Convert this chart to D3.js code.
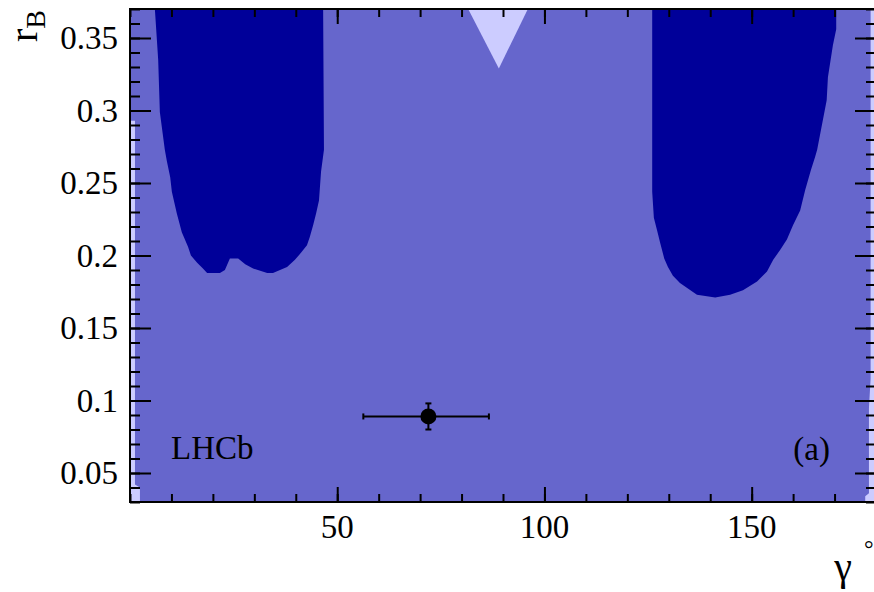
<!DOCTYPE html>
<html>
<head>
<meta charset="utf-8">
<script src="https://cdn.jsdelivr.net/npm/d3@7"></script>
<style>
  body { margin: 0; background: #fff; }
  svg { display: block; }
  text { font-family: "Liberation Serif", "Times New Roman", serif; }
</style>
</head>
<body>
<svg width="874" height="592"></svg>
<script>
// contours, [gamma (deg), rB]
var leftIsland = [
  [6.0, 0.370], [6.8, 0.335], [7.2, 0.299], [8.4, 0.273], [8.9, 0.265],
  [9.7, 0.254], [10.1, 0.244], [11.3, 0.229], [12.5, 0.216], [14.0, 0.206],
  [14.7, 0.200], [16.2, 0.195], [17.6, 0.191], [18.6, 0.188], [21.7, 0.188],
  [22.9, 0.190], [24.1, 0.198], [26.1, 0.198], [27.8, 0.194], [29.7, 0.191],
  [33.1, 0.188], [34.5, 0.188], [37.9, 0.192], [39.8, 0.197], [41.3, 0.202],
  [42.7, 0.207], [43.4, 0.213], [44.2, 0.221], [44.9, 0.229], [45.6, 0.238],
  [46.1, 0.258], [46.8, 0.273], [46.6, 0.370]
];
var rightIsland = [
  [126.0, 0.370], [126.0, 0.244], [126.4, 0.226], [127.2, 0.217], [127.9, 0.209],
  [128.9, 0.198], [129.8, 0.192], [131.0, 0.186], [132.7, 0.181], [134.7, 0.177],
  [136.8, 0.173], [141.2, 0.171], [144.8, 0.173], [147.9, 0.176], [151.3, 0.182],
  [153.7, 0.189], [155.2, 0.197], [156.9, 0.204], [158.5, 0.211], [160.0, 0.221],
  [161.7, 0.231], [162.9, 0.245], [164.3, 0.259], [165.3, 0.268], [165.8, 0.273],
  [168.1, 0.307], [168.4, 0.323], [169.6, 0.345], [170.4, 0.356], [170.4, 0.370]
];
var topWedge = [[81.6, 0.370], [89.0, 0.329], [96.0, 0.370]];
var leftStrip = [[0, 0.293], [1.2, 0.293], [1.2, 0.042], [2.4, 0.040], [2.4, 0.03], [0, 0.03]];
var rightStrip = [[178.7, 0.370], [178.7, 0.115], [178.3, 0.095], [178.3, 0.036],
  [177.4, 0.034], [177.4, 0.03], [180, 0.03], [180, 0.370]];

// best fit point with errors
var ptGamma = [72.0], ptGammaLo = [56.3], ptGammaHi = [86.6];
var ptR = [0.089], ptRLo = [0.080], ptRHi = [0.098];

var xTicks = [50, 100, 150];
var yTicks = [0.05, 0.1, 0.15, 0.2, 0.25, 0.3, 0.35];
var xMinor = d3.range(0, 181, 10);
var yMinor = d3.range(3, 38).map(function(d) { return d / 100; });

var svg = d3.select("svg");
var pL = 130, pR = 876, pT = 9, pB = 502;

var x = d3.scaleLinear().domain([0, 180]).range([pL, pR]);
var y = d3.scaleLinear().domain([0.03, 0.37]).range([pB, pT]);

var line = d3.line()
    .x(function(d) { return x(d[0]); })
    .y(function(d) { return y(d[1]); });

svg.append("defs").append("clipPath")
    .attr("id", "plot")
  .append("rect")
    .attr("x", pL).attr("y", pT)
    .attr("width", pR - pL).attr("height", pB - pT);

var plot = svg.append("g").attr("clip-path", "url(#plot)");

plot.append("rect")
    .attr("x", pL).attr("y", pT)
    .attr("width", pR - pL).attr("height", pB - pT)
    .attr("fill", "#6666cc");

[leftStrip, rightStrip, topWedge].forEach(function(pts) {
  plot.append("path").attr("d", line(pts) + "Z").attr("fill", "#ccccff");
});
[leftIsland, rightIsland].forEach(function(pts) {
  plot.append("path").attr("d", line(pts) + "Z").attr("fill", "#000099");
});

// error bars + marker
var pt = plot.append("g").attr("stroke", "#000").attr("stroke-width", 2);
ptGamma.forEach(function(g, i) {
  var cy = y(ptR[i]), cx = x(g);
  pt.append("line").attr("x1", x(ptGammaLo[i])).attr("x2", x(ptGammaHi[i])).attr("y1", cy).attr("y2", cy);
  pt.append("line").attr("x1", x(ptGammaLo[i])).attr("x2", x(ptGammaLo[i])).attr("y1", cy - 3).attr("y2", cy + 3);
  pt.append("line").attr("x1", x(ptGammaHi[i])).attr("x2", x(ptGammaHi[i])).attr("y1", cy - 3).attr("y2", cy + 3);
  pt.append("line").attr("x1", cx).attr("x2", cx).attr("y1", y(ptRLo[i])).attr("y2", y(ptRHi[i]));
  pt.append("line").attr("x1", cx - 3).attr("x2", cx + 3).attr("y1", y(ptRLo[i])).attr("y2", y(ptRLo[i]));
  pt.append("line").attr("x1", cx - 3).attr("x2", cx + 3).attr("y1", y(ptRHi[i])).attr("y2", y(ptRHi[i]));
  pt.append("circle").attr("cx", cx).attr("cy", cy).attr("r", 8).attr("fill", "#000").attr("stroke", "none");
});

// ticks on all four sides
function ticks(axis, tx, ty) {
  svg.append("g")
      .attr("transform", "translate(" + tx + "," + ty + ")")
      .call(axis)
      .call(function(g) {
        g.select(".domain").remove();
        g.selectAll("text").remove();
        g.selectAll("line").attr("stroke", "#000").attr("stroke-width", 2);
      });
}
ticks(d3.axisBottom(x).tickValues(xMinor).tickSize(-8), 0, pB);
ticks(d3.axisBottom(x).tickValues(xTicks).tickSize(-15), 0, pB);
ticks(d3.axisTop(x).tickValues(xMinor).tickSize(-8), 0, pT);
ticks(d3.axisTop(x).tickValues(xTicks).tickSize(-15), 0, pT);
ticks(d3.axisLeft(y).tickValues(yMinor).tickSize(-10), pL, 0);
ticks(d3.axisLeft(y).tickValues(yTicks).tickSize(-21), pL, 0);
ticks(d3.axisRight(y).tickValues(yMinor).tickSize(-10), pR, 0);
ticks(d3.axisRight(y).tickValues(yTicks).tickSize(-21), pR, 0);

svg.append("rect")
    .attr("x", pL).attr("y", pT)
    .attr("width", pR - pL).attr("height", pB - pT)
    .attr("fill", "none").attr("stroke", "#000").attr("stroke-width", 2);

// tick labels
svg.selectAll(".xl").data(xTicks).enter().append("text")
    .attr("x", function(d) { return x(d); })
    .attr("y", 538)
    .attr("text-anchor", "middle")
    .attr("font-size", 33)
    .text(function(d) { return d; });

svg.selectAll(".yl").data(yTicks).enter().append("text")
    .attr("x", pL - 12)
    .attr("y", function(d) { return y(d) + 11; })
    .attr("text-anchor", "end")
    .attr("font-size", 33)
    .text(function(d) { return +d.toFixed(2); });

// titles
svg.append("text").attr("x", 852).attr("y", 580).attr("text-anchor", "end")
    .attr("font-size", 40).text("γ");
svg.append("text").attr("x", 864).attr("y", 557).attr("font-size", 24).text("°");

var yt = svg.append("text")
    .attr("transform", "translate(37,10) rotate(-90)")
    .attr("text-anchor", "end")
    .attr("font-size", 40);
yt.append("tspan").text("r");
yt.append("tspan").attr("font-size", 28).attr("dy", 8).text("B");

svg.append("text").attr("x", 171).attr("y", 459).attr("font-size", 33).text("LHCb");
svg.append("text").attr("x", 830).attr("y", 460).attr("text-anchor", "end").attr("font-size", 33).text("(a)");
</script>
</body>
</html>
